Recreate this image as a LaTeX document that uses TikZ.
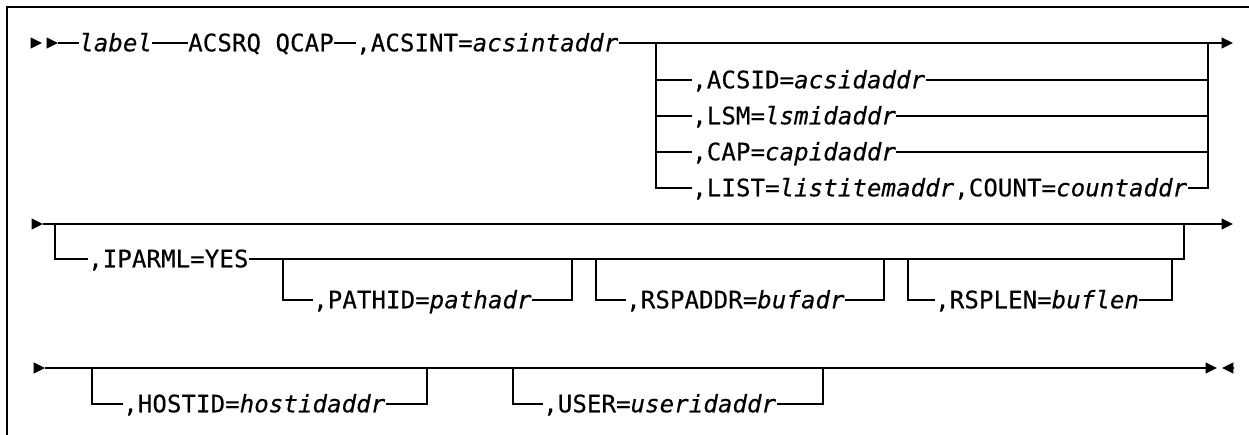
\documentclass[tikz,border=0pt]{standalone}
\usepackage{fontspec}
\usepackage{tikz}
\usetikzlibrary{arrows.meta}
\newfontfamily\rrfont[LetterSpace=0.5,FakeBold=0.4,ItalicFont={DejaVu Sans Mono Oblique}]{DejaVu Sans Mono}

\begin{document}
\begin{tikzpicture}[x=0.75pt,y=0.75pt,yscale=-1,xscale=1,
  rr/.style={line width=1.3pt},
  frame/.style={line width=1.6pt},
  tip/.style={-{Triangle[length=8.5pt,width=8pt]}},
  kw/.style={anchor=west,inner sep=0pt,font=\rrfont\fontsize{18}{21}\selectfont,text height=15pt,text depth=2.6pt}]
\useasboundingbox (0,0) rectangle (1249,435);

%Shape: Frame
\draw[frame] (1249,7) -- (7,7) -- (7,435);

% Text Node
\node[kw] (lbl) at (79,43) {\itshape label};
% Text Node
\node[kw] (qcap) at (188,43) {ACSRQ QCAP};
% Text Node
\node[kw] (acsint) at (356,43) {,ACSINT=\textit{acsintaddr}};
% Text Node
\node[kw] (acsid) at (692,80) {,ACSID=\textit{acsidaddr}};
% Text Node
\node[kw] (lsm) at (692,116) {,LSM=\textit{lsmidaddr}};
% Text Node
\node[kw] (cap) at (692,152) {,CAP=\textit{capidaddr}};
% Text Node
\node[kw] (list) at (692,188) {,LIST=\textit{listitemaddr},COUNT=\textit{countaddr}};
% Text Node
\node[kw] (iparml) at (88,259) {,IPARML=YES};
% Text Node
\node[kw] (pathid) at (313,300) {,PATHID=\textit{pathadr}};
% Text Node
\node[kw] (rspaddr) at (626,300) {,RSPADDR=\textit{bufadr}};
% Text Node
\node[kw] (rsplen) at (935,300) {,RSPLEN=\textit{buflen}};
% Text Node
\node[kw] (hostid) at (123,404) {,HOSTID=\textit{hostidaddr}};
% Text Node
\node[kw] (user) at (543,404) {,USER=\textit{useridaddr}};

%Points of the first row
\coordinate (ta) at (31,43);
\coordinate (tb) at (42,43);
\coordinate (tc) at (47,43);
\coordinate (td) at (58,43);
\coordinate (fork1) at (656,43);
\coordinate (join1) at (1208,43);
\coordinate (end1) at (1233,43);
%Points of the second row
\coordinate (ua) at (32,224);
\coordinate (ub) at (43,224);
\coordinate (fork2) at (55,224);
\coordinate (join2) at (1184,224);
\coordinate (end2) at (1233,224);
\coordinate (forkp) at (283,259);
\coordinate (joinp) at (572,259);
\coordinate (forkr) at (596,259);
\coordinate (joinr) at (884,259);
\coordinate (forkl) at (908,259);
\coordinate (joinl) at (1172,259);
%Points of the third row
\coordinate (va) at (34,368);
\coordinate (vb) at (45,368);
\coordinate (forkh) at (92,368);
\coordinate (joinh) at (427,368);
\coordinate (forku) at (513,368);
\coordinate (joinu) at (823,368);
\coordinate (end3) at (1217,368);
\coordinate (wa) at (1234,368);
\coordinate (wb) at (1222,368);

%Straight Lines: first row
\draw[rr,tip] (ta) -- (tb);
\draw[rr,tip] (tc) -- (td);
\draw[rr] (td) -- (lbl.west);
\draw[rr] (lbl.east) -- (qcap.west);
\draw[rr] (qcap.east) -- (acsint.west);
\draw[rr,tip] (acsint.east) -- (end1);
\draw[rr] (fork1) |- (list.west);
\draw[rr] (fork1 |- acsid) -- (acsid.west);
\draw[rr] (fork1 |- lsm) -- (lsm.west);
\draw[rr] (fork1 |- cap) -- (cap.west);
\draw[rr] (list.east) -| (join1);
\draw[rr] (acsid.east) -- (join1 |- acsid);
\draw[rr] (lsm.east) -- (join1 |- lsm);
\draw[rr] (cap.east) -- (join1 |- cap);

%Straight Lines: second row
\draw[rr,tip] (ua) -- (ub);
\draw[rr,tip] (ub) -- (end2);
\draw[rr] (fork2) |- (iparml.west);
\draw[rr] (iparml.east) -| (join2);
\draw[rr] (forkp) |- (pathid.west);
\draw[rr] (pathid.east) -| (joinp);
\draw[rr] (forkr) |- (rspaddr.west);
\draw[rr] (rspaddr.east) -| (joinr);
\draw[rr] (forkl) |- (rsplen.west);
\draw[rr] (rsplen.east) -| (joinl);

%Straight Lines: third row
\draw[rr,tip] (va) -- (vb);
\draw[rr,tip] (vb) -- (end3);
\draw[rr,tip] (wa) -- (wb);
\draw[rr] (forkh) |- (hostid.west);
\draw[rr] (hostid.east) -| (joinh);
\draw[rr] (forku) |- (user.west);
\draw[rr] (user.east) -| (joinu);

\end{tikzpicture}
\end{document}
